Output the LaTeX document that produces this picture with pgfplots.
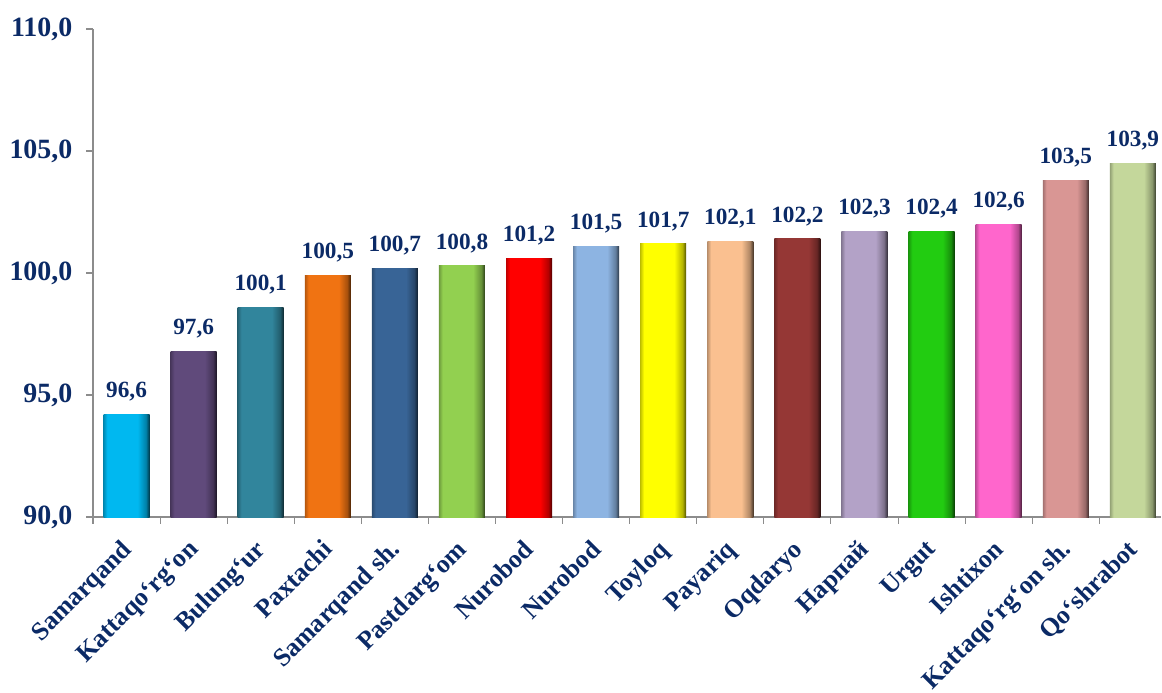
\documentclass[border=0pt]{standalone}
\usepackage{fontspec}
\setmainfont{Liberation Serif}
\usepackage{pgfplots}
\pgfplotsset{compat=1.18}

\definecolor{navy}{HTML}{0B2A66}
\definecolor{axisgray}{HTML}{8C8C8C}
\definecolor{c1}{HTML}{00B8F0}
\definecolor{c2}{HTML}{604A7B}
\definecolor{c3}{HTML}{31859C}
\definecolor{c4}{HTML}{F07312}
\definecolor{c5}{HTML}{386496}
\definecolor{c6}{HTML}{92D050}
\definecolor{c7}{HTML}{FF0000}
\definecolor{c8}{HTML}{8DB4E2}
\definecolor{c9}{HTML}{FFFF00}
\definecolor{c10}{HTML}{FAC090}
\definecolor{c11}{HTML}{953735}
\definecolor{c12}{HTML}{B3A2C7}
\definecolor{c13}{HTML}{22CC11}
\definecolor{c14}{HTML}{FF66CC}
\definecolor{c15}{HTML}{D99694}
\definecolor{c16}{HTML}{C4D79B}

% bar shading: narrow darker left edge, flat middle, dark right edge
\newcommand\mkshade[1]{%
  \pgfdeclarehorizontalshading{sh#1}{100bp}{%
    color(0bp)=(#1!75!black); color(25bp)=(#1!75!black); color(29bp)=(#1);
    color(62bp)=(#1); color(71bp)=(#1!70!black); color(75bp)=(#1!30!black);
    color(100bp)=(#1!30!black)}}
\mkshade{c1}\mkshade{c2}\mkshade{c3}\mkshade{c4}\mkshade{c5}\mkshade{c6}
\mkshade{c7}\mkshade{c8}\mkshade{c9}\mkshade{c10}\mkshade{c11}\mkshade{c12}
\mkshade{c13}\mkshade{c14}\mkshade{c15}\mkshade{c16}

\pgfplotsset{bev/.style={draw=none, shading=sh#1}}

\begin{document}
\begin{tikzpicture}
\begin{axis}[
  scale only axis,
  width=801bp, height=366bp,
  xmin=-0.5, xmax=15.42,
  ymin=90, ymax=110,
  axis lines*=left,
  axis line style={draw=axisgray, line width=0.8bp},
  tick align=outside,
  major tick length=5bp,
  minor tick length=5bp,
  ytick={90,95,...,110},
  ytick style={draw=axisgray, line width=0.8bp},
  yticklabel style={/pgf/number format/fixed, /pgf/number format/fixed zerofill,
    /pgf/number format/precision=1, /pgf/number format/use comma,
    /pgf/number format/assume math mode=true, xshift=-7bp,
    font=\fontsize{21}{22}\selectfont\bfseries, text=navy},
  xtick={0,...,15},
  major x tick style={draw=none},
  minor xtick={-0.5,0.5,...,14.5},
  minor x tick style={draw=axisgray, line width=0.8bp},
  xticklabels={Samarqand, Kattaqo‘rg‘on, Bulung‘ur, Paxtachi, Samarqand sh., Pastdarg‘om,
    Nurobod, Nurobod, Toyloq, Payariq, Oqdaryo, Нарпай, Urgut, Ishtixon,
    Kattaqo‘rg‘on sh., Qo‘shrabot},
  xticklabel style={rotate=45, anchor=north east, inner sep=1bp, yshift=-3bp, xshift=-10bp,
    font=\fontsize{19.5}{20}\selectfont\bfseries, text=navy},
  ybar, bar width=34.5bp, bar shift=0pt,
  every node near coord/.append style={font=\fontsize{17.5}{18}\selectfont\bfseries,
    text=navy, anchor=south, inner sep=3bp, yshift=6.5bp},
  clip=false,
]
\addplot[bev=c1,  nodes near coords={96,6}]  coordinates {(0,94.2)};
\addplot[bev=c2,  nodes near coords={97,6}]  coordinates {(1,96.8)};
\addplot[bev=c3,  nodes near coords={100,1}] coordinates {(2,98.6)};
\addplot[bev=c4,  nodes near coords={100,5}] coordinates {(3,99.9)};
\addplot[bev=c5,  nodes near coords={100,7}] coordinates {(4,100.2)};
\addplot[bev=c6,  nodes near coords={100,8}] coordinates {(5,100.3)};
\addplot[bev=c7,  nodes near coords={101,2}] coordinates {(6,100.6)};
\addplot[bev=c8,  nodes near coords={101,5}] coordinates {(7,101.1)};
\addplot[bev=c9,  nodes near coords={101,7}] coordinates {(8,101.2)};
\addplot[bev=c10, nodes near coords={102,1}] coordinates {(9,101.3)};
\addplot[bev=c11, nodes near coords={102,2}] coordinates {(10,101.4)};
\addplot[bev=c12, nodes near coords={102,3}] coordinates {(11,101.7)};
\addplot[bev=c13, nodes near coords={102,4}] coordinates {(12,101.7)};
\addplot[bev=c14, nodes near coords={102,6}] coordinates {(13,102.0)};
\addplot[bev=c15, nodes near coords={103,5}] coordinates {(14,103.8)};
\addplot[bev=c16, nodes near coords={103,9}] coordinates {(15,104.5)};
\end{axis}
\pgfresetboundingbox
\path[use as bounding box] ([xshift=-69.75bp, yshift=-132bp]current axis.south west)
  rectangle ++(871.5bp, 519.75bp);
\end{tikzpicture}
\end{document}
